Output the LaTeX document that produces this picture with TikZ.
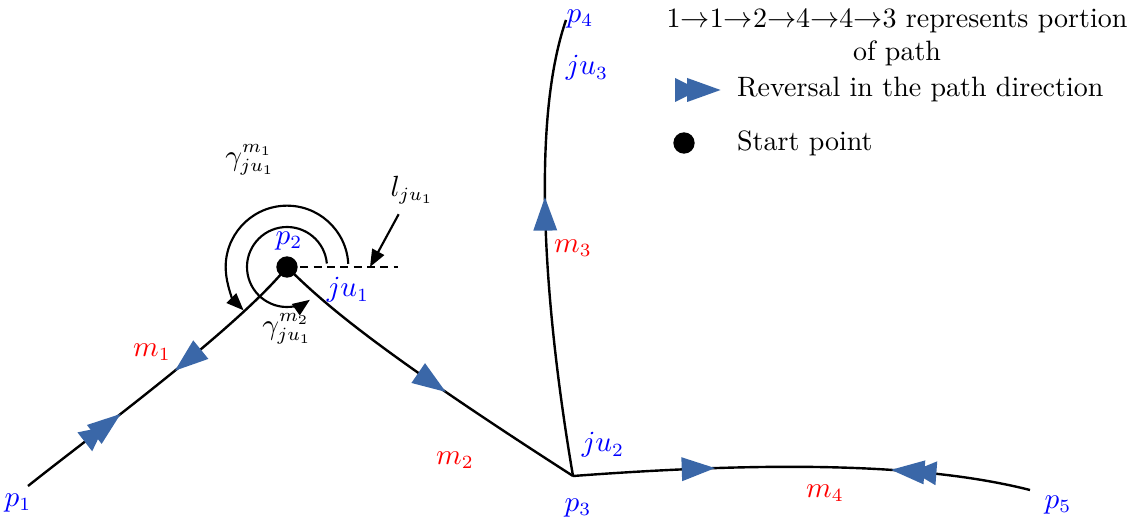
\documentclass[tikz,border=0pt]{standalone}
\usetikzlibrary{arrows.meta, decorations.markings}
\definecolor{revblue}{HTML}{3A67A8}
\definecolor{lblue}{HTML}{0000FF}
\definecolor{lred}{HTML}{FF0000}
\tikzset{
  every picture/.style={line width=0.9pt, font=\fontsize{10.5pt}{12.5pt}\selectfont},
  tri/.tip={Triangle[length=12.5pt, width=9pt, color=revblue, line width=0pt]},
  dtri/.tip={Triangle[length=9pt, width=9pt, color=revblue, line width=0pt, sep=-4.5pt]Triangle[length=12.5pt, width=9pt, color=revblue, line width=0pt, sep=-4.5pt]},
  fwd/.style={postaction={decorate, decoration={markings, mark=at position #1 with {\arrow{tri}}}}},
  bwd/.style={postaction={decorate, decoration={markings, mark=at position #1 with {\arrowreversed{tri}}}}},
  fwdd/.style={postaction={decorate, decoration={markings, mark=at position #1 with {\arrow{dtri}}}}},
  bwdd/.style={postaction={decorate, decoration={markings, mark=at position #1 with {\arrowreversed{dtri}}}}},
  ptlbl/.style={text=lblue},
  seglbl/.style={text=lred},
  ang/.style={-{Triangle[length=6.5pt, width=5pt]}, line width=0.8pt},
  dot/.style={circle, fill, inner sep=0pt, minimum size=8pt},
}
\begin{document}
\begin{tikzpicture}[x=0.375pt, y=0.375pt]
  \useasboundingbox (0,0) rectangle (1135,531);
  % end points of the path pieces
  \coordinate (P1) at (28,45);
  \coordinate (P2) at (287,264);
  \coordinate (P3) at (573,55);
  \coordinate (P4) at (566,511);
  \coordinate (P5) at (1030,41);
  \coordinate (D2) at (398,264);
  \coordinate (LT) at (370,264);
  % the segments m1..m4
  \draw[fwdd=0.31, bwd=0.55] (P1) .. controls (88,93) and (237,202) .. (P2);
  \draw[fwd=0.57] (P2) .. controls (325,226) and (380,179) .. (P3);
  \draw[fwd=0.61] (P3) .. controls (548,201) and (528,401) .. (P4);
  \draw[fwd=0.31, bwdd=0.72] (P3) .. controls (760,69) and (920,69) .. (P5);
  \draw[dash pattern=on 3pt off 2pt] (P2) -- (D2);
  % turning angles at ju1
  \draw[ang] ([shift={(5:15pt)}]P2) arc[start angle=5, end angle=305, radius=15pt];
  \draw[ang] ([shift={(3:23pt)}]P2) arc[start angle=3, end angle=225, radius=23pt];
  \node[dot] (S) at (P2) {};
  \node (lj) at (412,341) {$l_{ju_1}$};
  \draw[ang] ([xshift=-5pt]lj.south) -- (LT);
  \node[inner sep=1pt] (g1) at (250,371) {$\gamma^{m_1}_{ju_1}$};
  \node[inner sep=1pt] (g2) at (287,202) {$\gamma^{m_2}_{ju_1}$};
  % point and junction labels
  \node[ptlbl] (p1) at (18,28) {$p_1$};
  \node[ptlbl] (p2) at (289,290) {$p_2$};
  \node[ptlbl] (p3) at (578,23) {$p_3$};
  \node[ptlbl, inner sep=1pt] (p4) at (580,512) {$p_4$};
  \node[ptlbl] (p5) at (1058,26) {$p_5$};
  \node[ptlbl] (j1) at (348,241) {$ju_1$};
  \node[ptlbl] (j2) at (603,86) {$ju_2$};
  \node[ptlbl] (j3) at (587,463) {$ju_3$};
  \node[seglbl] (m1) at (152,179) {$m_1$};
  \node[seglbl] (m2) at (455,71) {$m_2$};
  \node[seglbl] (m3) at (573,283) {$m_3$};
  \node[seglbl] (m4) at (825,38) {$m_4$};
  % legend
  \node[align=center, inner sep=1pt] (cap) at (897,494) {1$\to$1$\to$2$\to$4$\to$4$\to$3 represents portion\\of path};
  \coordinate (R1) at (664,441);
  \coordinate (R2) at (709,441);
  \path[fwdd=0.99] (R1) -- (R2);
  \node[anchor=west] (rev) at (727,441) {Reversal in the path direction};
  \node[dot] (sp) at (684,388) {};
  \node[anchor=west] (start) at (727,388) {Start point};
\end{tikzpicture}
\end{document}
